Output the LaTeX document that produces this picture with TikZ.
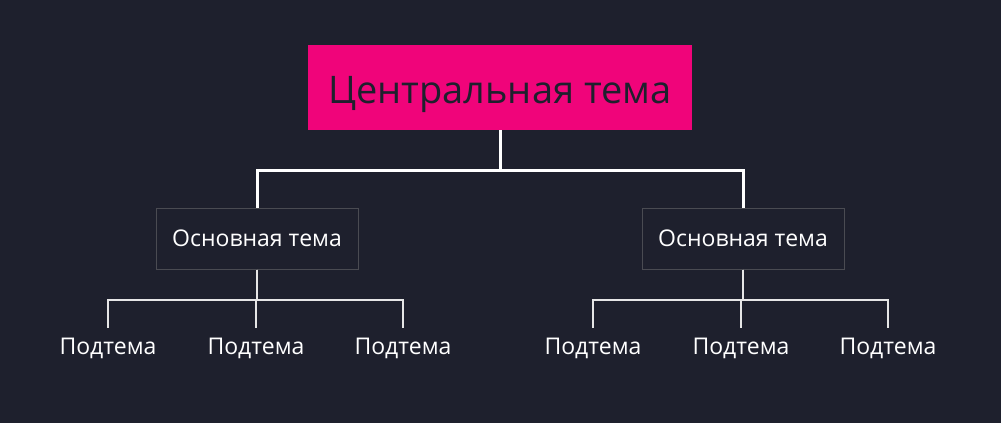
\documentclass[tikz,border=0pt]{standalone}
\usepackage{fontspec}
\setmainfont{Open Sans}

\definecolor{fondo}{HTML}{1E202D}
\definecolor{rosa}{HTML}{F0047A}
\definecolor{borde}{HTML}{4A4B52}
\definecolor{linea}{HTML}{E6E6E6}

\begin{document}
\begin{tikzpicture}[x=1pt, y=-1pt]

		% Фон
		\fill [fondo] (0,0) rectangle (1001,423);

		% Центральная тема
		\node [fill=rosa, text=fondo, minimum width=384pt, minimum height=85pt, inner sep=0pt, text height=31pt, text depth=0pt, font=\fontsize{38}{44}\selectfont] (central) at (500,87.5) {Центральная тема};

		% Основные темы
		\foreach \m/\x in {1/257,2/743}
		\node [draw=borde, line width=1pt, fill=fondo, text=white, minimum width=202pt, minimum height=61pt, font=\fontsize{23}{28}\selectfont] (main-\m) at (\x,238.5) {Основная тема};

		% Подтемы
		\foreach \m/\x in {1/108,2/256,3/403,4/593,5/741,6/888}
		\node [text=white, minimum height=40pt, inner sep=0pt, font=\fontsize{23}{28}\selectfont] (sub-\m) at (\x,348) {Подтема};

		% Связи от центральной темы к основным
		\foreach \j in {1,2}
		\draw [white, line width=3pt] (central.south) -- ++(0,40) -| (main-\j.north);

		% Связи от основных тем к подтемам
		\foreach \j in {1,2,3}
		\draw [linea, line width=2pt] (main-1.south) -- ++(0,30) -| (sub-\j.north);
		\foreach \j in {4,5,6}
		\draw [linea, line width=2pt] (main-2.south) -- ++(0,30) -| (sub-\j.north);

	\end{tikzpicture}
\end{document}
